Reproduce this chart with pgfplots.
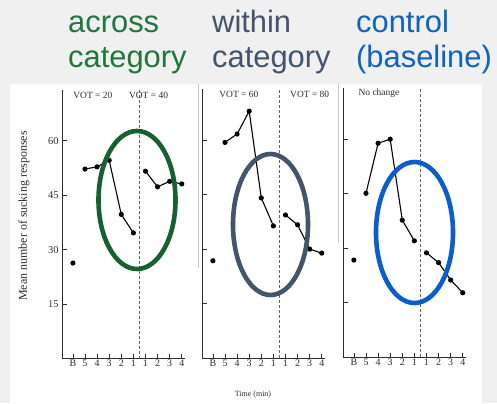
\documentclass[border=0pt]{standalone}
\usepackage{pgfplots}
\pgfplotsset{compat=1.18}
\usepackage{fontspec}
\setmainfont{Liberation Serif}
\newfontfamily\headfont{Liberation Sans}
\definecolor{bg}{RGB}{240,240,240}
\definecolor{tgreen}{RGB}{30,120,62}
\definecolor{egreen}{RGB}{22,96,50}
\definecolor{slate}{RGB}{68,84,106}
\definecolor{tblue}{RGB}{14,98,196}
\definecolor{eblue}{RGB}{10,94,204}
\definecolor{ink}{RGB}{45,45,45}

\pgfplotstableread{
x y
0 26.3
}\Abase
\pgfplotstableread{
x y
1 52.2
2 52.8
3 54.6
4 39.7
5 34.6
}\Apre
\pgfplotstableread{
x y
6 51.6
7 47.3
8 48.8
9 48.1
}\Apost
\pgfplotstableread{
x y
0 26.8
}\Bbase
\pgfplotstableread{
x y
1 59.4
2 61.7
3 68.0
4 44.1
5 36.4
}\Bpre
\pgfplotstableread{
x y
6 39.4
7 36.7
8 30.0
9 28.9
}\Bpost
\pgfplotstableread{
x y
0 26.7
}\Cbase
\pgfplotstableread{
x y
1 45.1
2 58.9
3 60.0
4 37.7
5 32.0
}\Cpre
\pgfplotstableread{
x y
6 28.7
7 26.0
8 21.2
9 17.7
}\Cpost

\pgfplotsset{
  panel/.style={
    anchor=south west, scale only axis,
    width=123.4bp, height=268.6bp,
    xmin=-0.9, xmax=9.3, ymin=0, ymax=74,
    axis x line=bottom, axis y line=left,
    axis line style={-, ink, line width=1bp},
    tick align=inside, major tick length=4.5bp,
    xtick={0,...,9}, xticklabels={B,5,4,3,2,1,1,2,3,4},
    ytick={15,30,45,60},
    tick style={ink, line width=0.7bp},
    xticklabel style={font=\fontsize{10}{11}\selectfont, text=ink, inner sep=1.5bp},
    yticklabel style={font=\fontsize{10.5}{12}\selectfont, text=ink},
    /pgf/number format/assume math mode=true,
    clip=false,
  },
  dat/.style={black, line width=1.1bp, mark=*, mark size=2bp, mark options={solid, fill=black}},
  vline/.style={black!60, dashed, line width=0.7bp, dash pattern=on 3bp off 2bp, forget plot},
}
\tikzset{vot/.style={font=\fontsize{9.5}{11}\selectfont, text=ink}}

\begin{document}
\begin{tikzpicture}[x=1bp,y=1bp]
\fill[bg] (0,0) rectangle (497,403);
\fill[white] (10,0) rectangle (482,319);
\draw[gray!45, line width=0.6bp] (198,319) -- (198,135);
\draw[gray!45, line width=0.6bp] (338,319) -- (338,160);

% Panel 1
\begin{axis}[panel, at={(62bp,44.5bp)}]
\addplot[vline] coordinates {(5.5,0) (5.5,74)};
\addplot[dat, only marks] table {\Abase};
\addplot[dat] table {\Apre};
\addplot[dat] table {\Apost};
\node[vot] at (axis cs:1.65,72.6) {VOT = 20};
\node[vot] at (axis cs:6.25,72.6) {VOT = 40};
\end{axis}

% Panel 2
\begin{axis}[panel, at={(202bp,45bp)}, yticklabels={}]
\addplot[vline] coordinates {(5.5,0) (5.5,74)};
\addplot[dat, only marks] table {\Bbase};
\addplot[dat] table {\Bpre};
\addplot[dat] table {\Bpost};
\node[vot] at (axis cs:2.15,72.6) {VOT = 60};
\node[vot] at (axis cs:8.0,72.6) {VOT = 80};
\end{axis}

% Panel 3
\begin{axis}[panel, at={(343bp,46bp)}, yticklabels={}]
\addplot[vline] coordinates {(5.5,0) (5.5,74)};
\addplot[dat, only marks] table {\Cbase};
\addplot[dat] table {\Cpre};
\addplot[dat] table {\Cpost};
\node[vot] at (axis cs:2.07,72.6) {No change};
\end{axis}

\node[rotate=90, font=\fontsize{12}{13}\selectfont, text=ink] at (24,187) {Mean number of sucking responses};
\node[font=\fontsize{8}{10}\selectfont, text=ink] at (253,8) {Time (min)};

% ellipses
\draw[egreen, line width=4.6bp] (137,203) ellipse [x radius=38.5, y radius=69];
\draw[slate, line width=4.6bp] (270.5,178.5) ellipse [x radius=37.5, y radius=70.5];
\draw[eblue, line width=4.6bp] (414.5,170.5) ellipse [x radius=38.5, y radius=70.5];

% headings
\begin{scope}[every node/.style={anchor=base west, inner sep=0pt, font=\headfont\fontsize{31}{35}\selectfont}]
\node[text=tgreen] at (68,371) {across};
\node[text=tgreen] at (68,336) {category};
\node[text=slate] at (212,371) {within};
\node[text=slate] at (212,336) {category};
\node[text=tblue] at (356,371) {control};
\node[text=tblue] at (356,336) {(baseline)};
\end{scope}
\end{tikzpicture}
\end{document}
